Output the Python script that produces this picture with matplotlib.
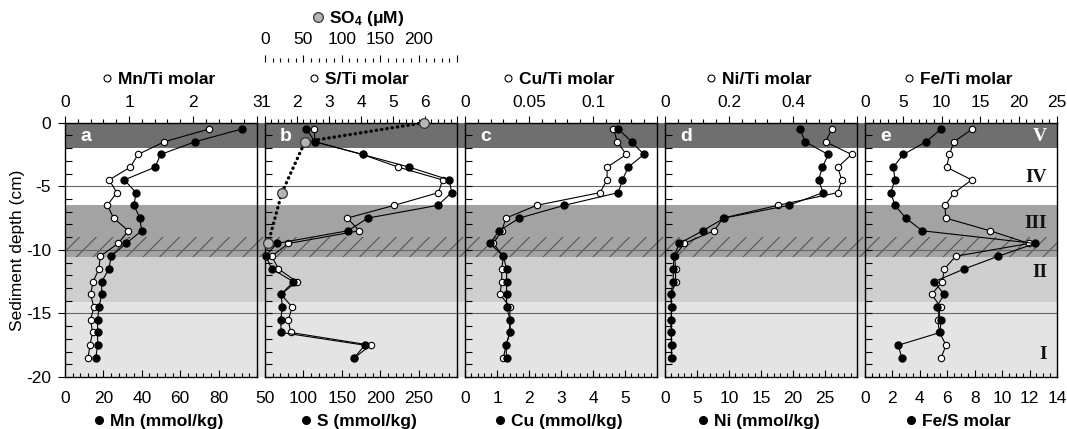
import matplotlib.pyplot as plt
from matplotlib.ticker import MultipleLocator, FuncFormatter
from matplotlib.lines import Line2D

plt.rcParams['font.family'] = ['Liberation Sans', 'DejaVu Sans']
plt.rcParams['mathtext.default'] = 'regular'
plt.rcParams['axes.unicode_minus'] = False
plt.rcParams['hatch.linewidth'] = 0.8

# sample depths (cm), one sample per cm slice
depth = [-0.5, -1.5, -2.5, -3.5, -4.5, -5.5, -6.5, -7.5, -8.5, -9.5,
         -10.5, -11.5, -12.5, -13.5, -14.5, -15.5, -16.5, -17.5, -18.5]

mn_ti = [2.25, 1.55, 1.14, 1.02, 0.69, 0.81, 0.66, 0.76, 0.99, 0.83,
         0.55, 0.53, 0.44, 0.40, 0.45, 0.40, 0.43, 0.39, 0.36]
mn = [92, 67.7, 49.8, 46.9, 30.9, 37, 35.9, 39, 39.9, 31.8,
      24, 22.9, 19.1, 19.1, 17.7, 17, 17, 17, 16]

s_ti = [2.54, 2.56, 4.05, 5.17, 6.55, 6.42, 5.04, 3.57, 3.95, 1.73,
        1.21, 1.42, 1.99, 1.5, 1.85, 1.73, 1.80, 4.30, 3.79]
s = [104, 115, 177, 238, 290, 293, 275, 184, 158, 65,
     51, 59, 87, 71, 72.5, 70.5, 71, 180, 166]

cu_ti = [0.116, 0.119, 0.126, 0.111, 0.111, 0.1055, 0.056, 0.032, 0.0287, 0.0221,
         0.030, 0.0287, 0.0287, 0.0273, 0.0352, 0.035, 0.035, 0.032, 0.030]
cu = [4.79, 5.21, 5.59, 5.10, 4.92, 4.79, 3.10, 1.70, 1.07, 0.78,
      1.2, 1.30, 1.30, 1.30, 1.30, 1.41, 1.41, 1.28, 1.30]

ni_ti = [0.521, 0.502, 0.583, 0.540, 0.552, 0.540, 0.352, 0.182, 0.153, 0.060,
         0.030, 0.033, 0.033, 0.02, 0.02, 0.02, 0.02, 0.02, 0.02]
ni = [21.1, 21.9, 25.5, 24.6, 24.0, 24.7, 19.3, 9.27, 5.89, 2.24,
      1.41, 1.3, 1.3, 0.89, 1.04, 0.94, 0.94, 1.04, 1.04]

fe_ti = [13.97, 11.59, 10.98, 10.63, 13.89, 11.63, 10.42, 10.5, 16.28, 21.35,
         11.81, 10.33, 10.07, 8.68, 9.85, 9.46, 9.7, 10.55, 9.9]
fe_s = [5.54, 4.45, 2.79, 2.06, 2.19, 1.87, 2.19, 2.97, 4.18, 12.40,
        9.72, 7.24, 5.05, 5.76, 5.23, 5.54, 5.47, 2.43, 2.68]

# pore water sulphate
so4_depth = [0, -1.5, -5.5, -9.5]
so4 = [207, 52, 22, 4]

# lithological units
unit_names = ['V', 'IV', 'III', 'II', 'I']
unit_label_depth = [-1.05, -4.3, -7.9, -11.8, -18.2]
band_edges = [0, -2, -6.5, -10.6, -14.1, -20]
band_colors = ['#6f6f6f', '#ffffff', '#a3a3a3', '#cecece', '#e4e4e4']
hatch_span = (-10.6, -9.0)

panels = [
    dict(letter='a', top_label='Mn/Ti molar', bot_label='Mn (mmol/kg)',
         top=mn_ti, bot=mn, top_lim=(0, 3), bot_lim=(0, 100),
         top_step=(1, 0.2), bot_step=(20, 4), hide_top=False, hide_bot=True),
    dict(letter='b', top_label='S/Ti molar', bot_label='S (mmol/kg)',
         top=s_ti, bot=s, top_lim=(1, 7), bot_lim=(50, 300),
         top_step=(1, 0.2), bot_step=(50, 10), hide_top=True, hide_bot=True),
    dict(letter='c', top_label='Cu/Ti molar', bot_label='Cu (mmol/kg)',
         top=cu_ti, bot=cu, top_lim=(0, 0.15), bot_lim=(0, 6),
         top_step=(0.05, 0.01), bot_step=(1, 0.2), hide_top=True, hide_bot=True),
    dict(letter='d', top_label='Ni/Ti molar', bot_label='Ni (mmol/kg)',
         top=ni_ti, bot=ni, top_lim=(0, 0.6), bot_lim=(0, 30),
         top_step=(0.2, 0.04), bot_step=(5, 1), hide_top=True, hide_bot=True),
    dict(letter='e', top_label='Fe/Ti molar', bot_label='Fe/S molar',
         top=fe_ti, bot=fe_s, top_lim=(0, 25), bot_lim=(0, 14),
         top_step=(5, 1), bot_step=(2, 0.5), hide_top=False, hide_bot=False),
]

W, H = 1067, 429
fig = plt.figure(figsize=(W / 100, H / 100), dpi=100)
renderer = fig.canvas.get_renderer()

box_top, box_bot = 122.7, 377.0
x_first, pw, step = 65, 192, 200


def fx(px):
    return px / W


def fy(py):
    return 1 - py / H


def tick_fmt(hi, hide):
    def f(v, pos):
        if hide and abs(v - hi) < 1e-9:
            return ''
        return f'{v:g}'
    return FuncFormatter(f)


# shared background with the unit bands
bg = fig.add_axes([fx(x_first), fy(box_bot), fx(x_first + 4 * step + pw) - fx(x_first),
                   (box_bot - box_top) / H], zorder=1)
bg.set_xlim(0, 1)
bg.set_ylim(-20, 0)
bg.axis('off')
for top, bot, col in zip(band_edges[:-1], band_edges[1:], band_colors):
    bg.axhspan(bot, top, color=col, lw=0)
bg.axhspan(*hatch_span, facecolor='none', edgecolor='#555555', hatch='//', lw=0)
for d in (-5, -10, -15):
    bg.axhline(d, color='#666666', lw=0.8)

ms_open, ms_fill = 4.6, 5.0
tick_kw = dict(labelsize=12.5, width=0.8)

axes = []
for i, p in enumerate(panels):
    left = x_first + i * step
    ax = fig.add_axes([fx(left), fy(box_bot), pw / W, (box_bot - box_top) / H], zorder=3)
    ax.patch.set_visible(False)
    ax.set_ylim(-20, 0)
    ax.set_xlim(*p['bot_lim'])
    for sp in ax.spines.values():
        sp.set_linewidth(1.0)

    axt = ax.twiny()
    axt.set_zorder(2)
    axt.patch.set_visible(False)
    axt.set_xlim(*p['top_lim'])
    for sp in axt.spines.values():
        sp.set_visible(False)

    # bottom axis: element concentration / ratio
    ax.xaxis.set_major_locator(MultipleLocator(p['bot_step'][0]))
    ax.xaxis.set_minor_locator(MultipleLocator(p['bot_step'][1]))
    ax.xaxis.set_major_formatter(tick_fmt(p['bot_lim'][1], p['hide_bot']))
    ax.tick_params(axis='x', which='both', direction='in', top=False, pad=10, **tick_kw)
    ax.tick_params(axis='x', which='major', length=5)
    ax.tick_params(axis='x', which='minor', length=3, width=0.8)

    # top axis: Ti normalised ratio
    axt.xaxis.set_major_locator(MultipleLocator(p['top_step'][0]))
    axt.xaxis.set_minor_locator(MultipleLocator(p['top_step'][1]))
    axt.xaxis.set_major_formatter(tick_fmt(p['top_lim'][1], p['hide_top']))
    axt.tick_params(axis='x', which='both', direction='out', pad=4.5, **tick_kw)
    axt.tick_params(axis='x', which='major', length=5)
    axt.tick_params(axis='x', which='minor', length=3, width=0.8)
    axt.tick_params(axis='y', left=False, right=False, labelleft=False, labelright=False)

    # depth axis
    ax.yaxis.set_major_locator(MultipleLocator(5))
    ax.yaxis.set_minor_locator(MultipleLocator(1))
    if i == 0:
        ax.tick_params(axis='y', which='major', direction='out', length=5, pad=5, **tick_kw)
        ax.tick_params(axis='y', which='minor', direction='in', length=5, width=0.8)
    else:
        ax.tick_params(axis='y', which='both', direction='in', length=5, width=0.8,
                       labelleft=False)

    axt.plot(p['top'], depth, color='black', lw=0.8, marker='o', ms=ms_open,
             mfc='white', mec='black', mew=0.8, clip_on=False)
    ax.plot(p['bot'], depth, color='black', lw=0.8, marker='o', ms=ms_fill,
            mfc='black', mec='black', clip_on=False)

    ax.text(0.11, -1.05, p['letter'], transform=ax.get_yaxis_transform(), color='white',
            fontsize=14, fontweight='bold', ha='center', va='center')
    axes.append(ax)

# sulphate profile on its own axis above panel b
axs = axes[1].twiny()
axs.set_zorder(4)
axs.patch.set_visible(False)
axs.set_xlim(0, 250)
for sp in axs.spines.values():
    sp.set_visible(False)
axs.spines['top'].set_position(('outward', (box_top - 62) * 0.72))
axs.xaxis.set_major_locator(MultipleLocator(50))
axs.xaxis.set_minor_locator(MultipleLocator(10))
axs.xaxis.set_major_formatter(tick_fmt(250, True))
axs.tick_params(axis='x', which='both', direction='out', pad=6, **tick_kw)
axs.tick_params(axis='x', which='major', length=5)
axs.tick_params(axis='x', which='minor', length=3, width=0.8)
axs.plot(so4, so4_depth, color='black', lw=2.4, dashes=(0.1, 1.5), dash_capstyle='round',
         clip_on=False)
axs.plot(so4, so4_depth, ls='none', marker='o', ms=7, mfc='#b5b5b5', mec='#333333',
         mew=0.9, clip_on=False)

# unit labels
for name, d in zip(unit_names, unit_label_depth):
    axes[4].text(0.948, d, name, transform=axes[4].get_yaxis_transform(),
                 family=['Liberation Serif', 'DejaVu Serif'], fontweight='bold', fontsize=14,
                 color='white' if name == 'V' else '#111111', ha='right', va='center')


def keyed_label(xc, baseline, text, gap=11, **mk):
    t = fig.text(0, fy(baseline), text, fontsize=12.5, fontweight='bold',
                 ha='left', va='baseline')
    w = t.get_window_extent(renderer).width
    xm = xc - (gap + w) / 2
    t.set_x(fx(xm + gap))
    fig.add_artist(Line2D([fx(xm)], [fy(baseline - 6)], transform=fig.transFigure,
                          ls='none', marker='o', **mk))


for i, p in enumerate(panels):
    xc = x_first + i * step + pw / 2
    keyed_label(xc, 84, p['top_label'], ms=5, mfc='white', mec='black', mew=0.8)
    keyed_label(xc, 426, p['bot_label'], ms=5.5, mfc='black', mec='black')

keyed_label(x_first + step + pw / 2, 22.5, 'SO$_4$ (μM)', ms=7, mfc='#b5b5b5',
            mec='#333333', mew=0.9)

fig.text(fx(18), fy((box_top + box_bot) / 2), 'Sediment depth (cm)', rotation=90,
         fontsize=12.5, ha='center', va='center')

fig.savefig('out.png', dpi=100)
